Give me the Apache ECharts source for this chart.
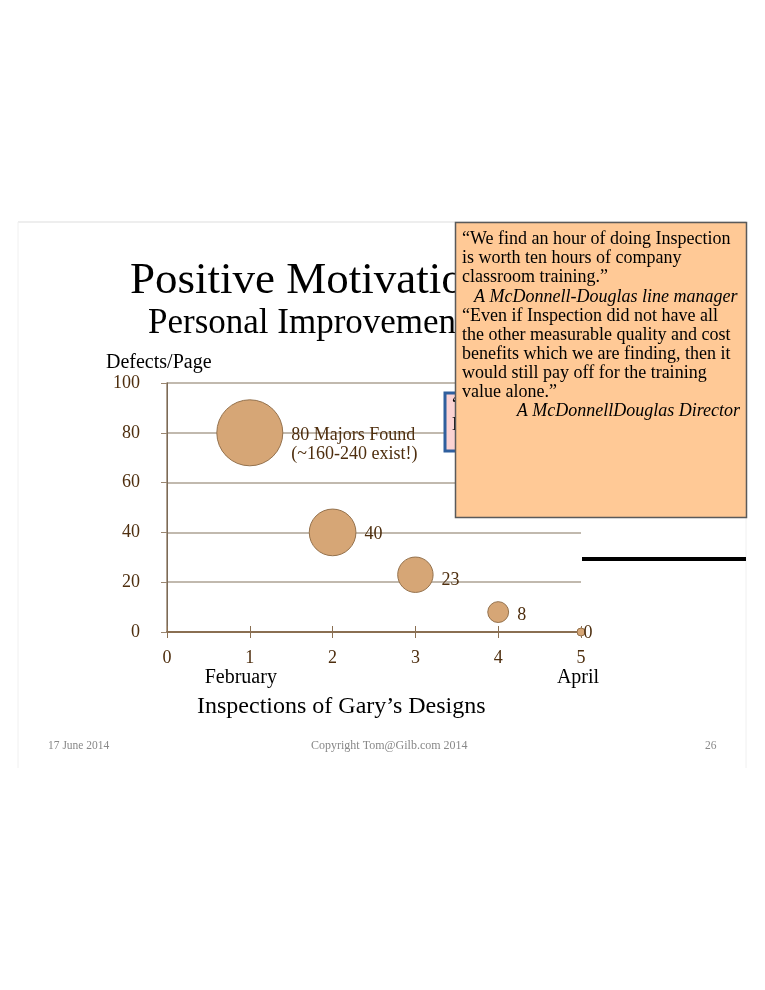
<!DOCTYPE html>
<html><head><meta charset="utf-8">
<script src="https://cdn.jsdelivr.net/npm/echarts@6/dist/echarts.min.js"></script>
<style>html,body{margin:0;padding:0;background:#fff}#c{width:765px;height:990px}</style>
</head><body><div id="c"></div>
<script>
// ---- data ----
const inspections = [1, 2, 3, 4, 5];
const defectsPerPage = [80, 40, 23, 8, 0];
const bubbleValues = [80, 40, 23, 8, 0];
const pointLabels = ['80 Majors Found\n(~160-240 exist!)', '40', '23', '8', '0'];
const xTicks = [0, 1, 2, 3, 4, 5];
const xMonthNames = ['', 'February', '', '', '', 'April'];
const yTicks = [0, 20, 40, 60, 80, 100];
const quoteLines = [
  '“We find an hour of doing Inspection',
  'is worth ten hours of company',
  'classroom training.”',
  'A McDonnell-Douglas line manager',
  '“Even if Inspection did not have all',
  'the other measurable quality and cost',
  'benefits which we are finding, then it',
  'would still pay off for the training',
  'value alone.”',
  'A McDonnellDouglas Director'
];
const italicLines = [3, 9];

const SERIF = '"Liberation Serif","DejaVu Serif",serif';
const brown = '#4e2e0e';
const chart = echarts.init(document.getElementById('c'));

const graphics = [];
// slide frame
graphics.push({type:'line', z:1, shape:{x1:18,y1:222,x2:746,y2:222}, style:{stroke:'#dddddd',lineWidth:1}});
graphics.push({type:'line', z:1, shape:{x1:18,y1:222,x2:18,y2:768}, style:{stroke:'#f0f0f0',lineWidth:1}});
graphics.push({type:'line', z:1, shape:{x1:746,y1:222,x2:746,y2:768}, style:{stroke:'#f0f0f0',lineWidth:1}});
// titles
graphics.push({type:'text', z:5, left:130, top:259, style:{text:'Positive Motivation', font:'45px '+SERIF, fill:'#000'}});
graphics.push({type:'text', z:5, left:148, top:306, style:{text:'Personal Improvement', font:'35px '+SERIF, fill:'#000'}});
graphics.push({type:'text', z:5, left:106, top:353, style:{text:'Defects/Page', font:'20px '+SERIF, fill:'#000'}});
graphics.push({type:'text', z:5, left:197, top:695, style:{text:'Inspections of Gary’s Designs', font:'24px '+SERIF, fill:'#000'}});
// footer
graphics.push({type:'text', z:5, left:48, top:740, style:{text:'17 June 2014', font:'11.5px '+SERIF, fill:'#888'}});
graphics.push({type:'text', z:5, left:311, top:740, style:{text:'Copyright Tom@Gilb.com 2014', font:'12px '+SERIF, fill:'#888'}});
graphics.push({type:'text', z:5, left:705, top:740, style:{text:'26', font:'11.5px '+SERIF, fill:'#888'}});
// black thick line
graphics.push({type:'line', z:20, shape:{x1:582,y1:559,x2:746,y2:559}, style:{stroke:'#000',lineWidth:4}});
// blue box (mostly hidden)
graphics.push({type:'rect', z:30, shape:{x:445,y:393,width:80,height:58}, style:{fill:'#fbd3d3',stroke:'#2f5f9e',lineWidth:3}});
graphics.push({type:'text', z:31, left:452, top:396, style:{text:'“Major', font:'18px '+SERIF, fill:'#000'}});
graphics.push({type:'text', z:31, left:452, top:416, style:{text:'Majors', font:'18px '+SERIF, fill:'#000'}});
// orange quote box
graphics.push({type:'rect', z:40, shape:{x:455.5,y:222.5,width:291,height:295}, style:{fill:'#ffc996',stroke:'#5a5a5a',lineWidth:1.5}});
quoteLines.forEach((t, i) => {
  const it = italicLines.indexOf(i) >= 0;
  const el = {type:'text', z:41, top:230.5 + i*19.1,
    style:{text:t, font:(it?'italic ':'') + '18px '+SERIF, fill:'#000'}};
  if (i === 3) el.left = 474;
  else if (i === 9) el.right = 765-740;
  else el.left = 462;
  graphics.push(el);
});

chart.setOption({
  animation:false,
  backgroundColor:'#fff',
  graphic: graphics,
  grid:{left:167, top:383, width:414, height:249, show:false},
  xAxis:[{
    type:'value', min:0, max:5, interval:1,
    axisLine:{show:true, onZero:false, lineStyle:{color:'#8a6f52', width:2}},
    axisTick:{show:true, length:6, lineStyle:{color:'#8a6f52', width:1}},
    splitLine:{show:false},
    axisLabel:{margin:16, color:brown, fontFamily:SERIF, fontSize:18, lineHeight:20,
      formatter: v => { const i = xTicks.indexOf(v); const n = xMonthNames[i] || ''; return n ? v + '\n{m' + i + '|' + n + '}' : String(v); },
      rich:{
        m1:{color:'#000', fontFamily:SERIF, fontSize:20, lineHeight:20, padding:[0,18,0,0]},
        m5:{color:'#000', fontFamily:SERIF, fontSize:20, lineHeight:20, padding:[0,6,0,0]}
      }}
  },{
    type:'value', min:0, max:5, interval:1, position:'bottom',
    axisLine:{show:false}, axisLabel:{show:false}, splitLine:{show:false},
    axisTick:{show:true, inside:true, length:6, lineStyle:{color:'#8a6f52', width:1}}
  }],
  yAxis:[{
    type:'value', min:0, max:100, interval:20,
    axisLine:{show:true, lineStyle:{color:'#9a8670', width:1.5}},
    axisTick:{show:true, length:6, lineStyle:{color:'#9a8670'}},
    splitLine:{show:true, lineStyle:{color:'#ada293', width:1.5}},
    axisLabel:{margin:27, color:brown, fontFamily:SERIF, fontSize:18, padding:[3,0,0,0]}
  },{
    type:'value', min:0, max:100, interval:20, position:'right',
    axisLine:{show:true, lineStyle:{color:'#7a6a58', width:1}},
    axisTick:{show:false}, axisLabel:{show:false}, splitLine:{show:false}
  }],
  series:[{
    type:'scatter', z:10,
    data: inspections.map((x, i) => ({
      value:[x, defectsPerPage[i], bubbleValues[i]],
      label:{show:true, position:'right', distance:8,
        offset: [[0, 12], [0, 2], [0, 6], [0, 3], [-10, 1]][i],
        formatter: pointLabels[i]}
    })),
    symbolSize: v => Math.max(8, 66 * Math.sqrt(v[2] / 80)),
    itemStyle:{color:'#d6a676', borderColor:'#94714c', borderWidth:1, opacity:1},
    label:{color:brown, fontFamily:SERIF, fontSize:18, lineHeight:19, align:'left'}
  }]
});
</script></body></html>
